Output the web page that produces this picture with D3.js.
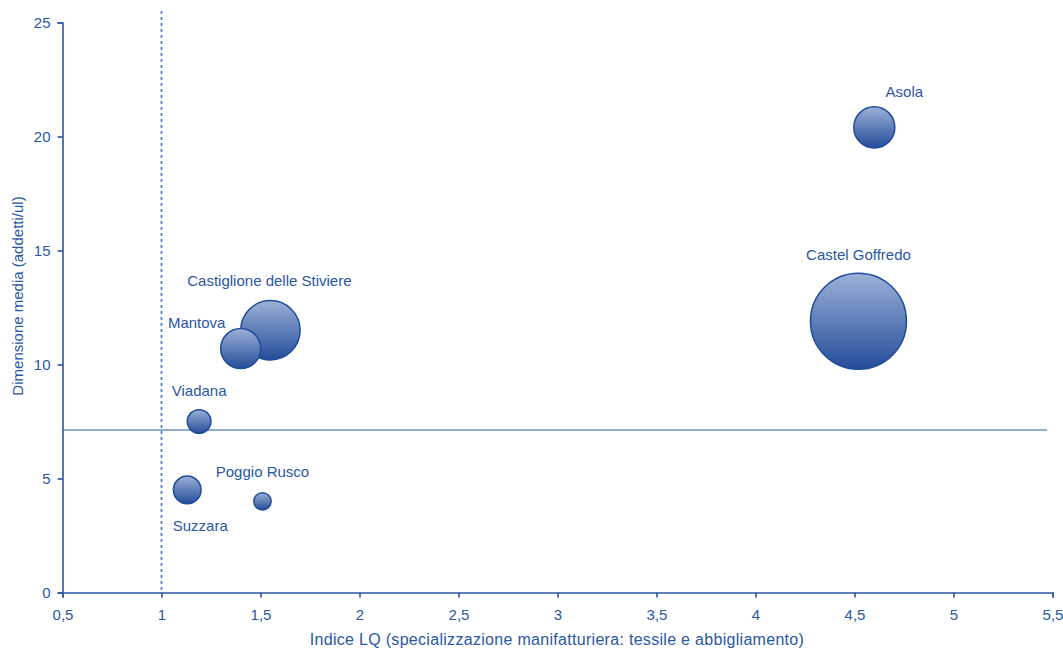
<!DOCTYPE html>
<html><head><meta charset="utf-8">
<script src="https://cdn.jsdelivr.net/npm/d3@7"></script>
<style>body{margin:0;background:#fff;} text{font-family:"Liberation Sans",Arial,sans-serif;}</style>
</head><body>
<svg id="chart" width="1063" height="650"></svg>
<script>
const names = ["Asola","Castel Goffredo","Castiglione delle Stiviere","Mantova","Viadana","Suzzara","Poggio Rusco"];
const lqValues = [4.60, 4.52, 1.55, 1.40, 1.19, 1.13, 1.51];
const avgSize = [20.4, 11.9, 11.5, 10.7, 7.5, 4.5, 4.0];
const bubbleSize = [420, 2300, 880, 400, 140, 190, 75];
const xTicks = [0.5,1,1.5,2,2.5,3,3.5,4,4.5,5,5.5];
const yTicks = [0,5,10,15,20,25];
const refX = 1;      // vertical reference (LQ = 1)
const refY = 7.13;   // horizontal reference (mean size)
const labelOffsets = [[30,-36],[0,-66],[-1,-50],[-44,-26],[0,-31],[13,36],[0,-30]];

const svg = d3.select("#chart");
const blue = "#2a57a6";
const x = d3.scaleLinear().domain([0.5,5.5]).range([62.5,1052.5]);
const y = d3.scaleLinear().domain([0,25]).range([592.5,22.5]);
const r = d3.scaleSqrt().domain([0, d3.max(bubbleSize)]).range([0,48]);

const defs = svg.append("defs");
const grad = defs.append("linearGradient").attr("id","bg").attr("x1",0).attr("y1",0).attr("x2",0).attr("y2",1);
grad.append("stop").attr("offset","0%").attr("stop-color","#9cb1d6");
grad.append("stop").attr("offset","50%").attr("stop-color","#5f7fb9");
grad.append("stop").attr("offset","100%").attr("stop-color","#244d99");

// reference lines
svg.append("line").attr("x1",x(refX)).attr("x2",x(refX)).attr("y1",11).attr("y2",y(0))
  .attr("stroke","#5b82c2").attr("stroke-width",1.8).attr("stroke-dasharray","3,3");
svg.append("line").attr("x1",x(0.5)).attr("x2",1047).attr("y1",y(refY)).attr("y2",y(refY))
  .attr("stroke","#6f90c6").attr("stroke-width",1.6);

// axes
const xAxis = svg.append("g").attr("transform",`translate(0,${y(0)})`)
  .call(d3.axisBottom(x).tickValues(xTicks).tickSize(5).tickPadding(12).tickFormat(d=>String(d).replace(".",",")));
const yAxis = svg.append("g").attr("transform",`translate(${x(0.5)},0)`)
  .call(d3.axisLeft(y).tickValues(yTicks).tickSize(5).tickPadding(7));
[xAxis,yAxis].forEach(g=>{
  g.select(".domain").attr("stroke",blue).attr("stroke-width",1.6);
  g.selectAll(".tick line").attr("stroke",blue).attr("stroke-width",1.6);
  g.selectAll(".tick text").attr("fill",blue).attr("font-size",15).attr("font-family","Liberation Sans, Arial, sans-serif");
});

// titles
svg.append("text").attr("x",557).attr("y",645).attr("text-anchor","middle")
  .attr("fill",blue).attr("font-size",16).attr("letter-spacing",0.3)
  .text("Indice LQ (specializzazione manifatturiera: tessile e abbigliamento)");
svg.append("text").attr("transform","translate(23,296) rotate(-90)").attr("text-anchor","middle")
  .attr("fill",blue).attr("font-size",15).text("Dimensione media (addetti/ul)");

// bubbles (draw biggest first)
const data = names.map((n,i)=>({n, x:lqValues[i], y:avgSize[i], s:bubbleSize[i], off:labelOffsets[i]}));
const order = data.slice().sort((a,b)=>b.s-a.s);
svg.append("g").selectAll("circle").data(order).join("circle")
  .attr("cx",d=>x(d.x)).attr("cy",d=>y(d.y)).attr("r",d=>r(d.s))
  .attr("fill","url(#bg)").attr("stroke","#1f4b9b").attr("stroke-width",1.5);

svg.append("g").selectAll("text").data(data).join("text")
  .attr("x",d=>x(d.x)+d.off[0]).attr("y",d=>y(d.y)+d.off[1]).attr("dy","0.35em")
  .attr("text-anchor","middle").attr("fill",blue).attr("font-size",15).text(d=>d.n);
</script>
</body></html>
